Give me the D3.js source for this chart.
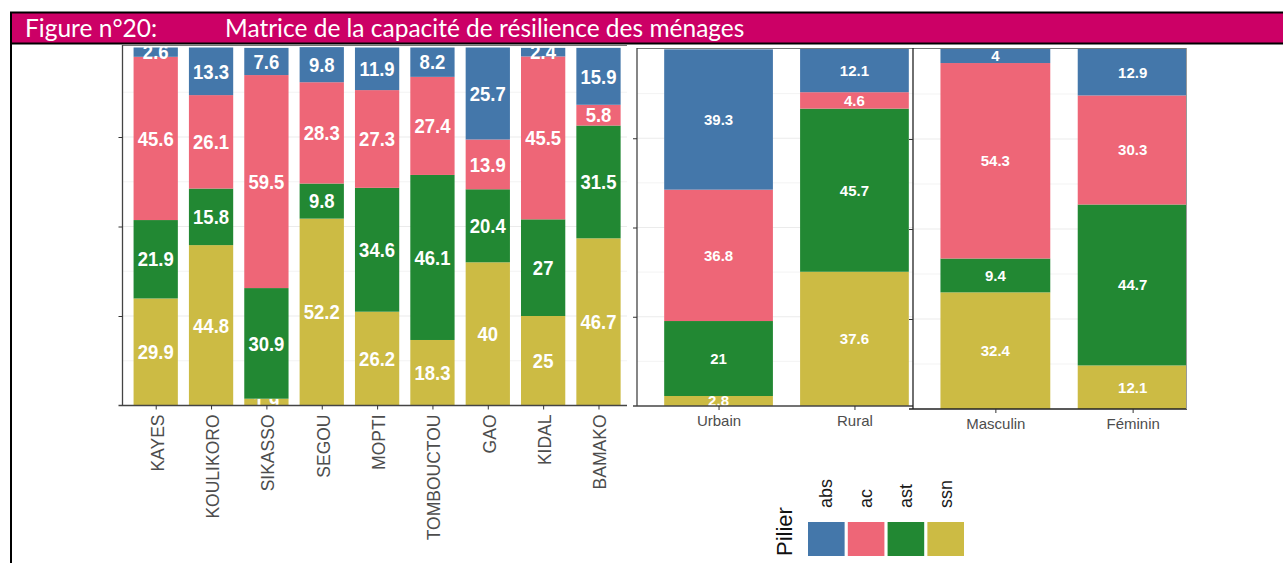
<!DOCTYPE html>
<html lang="fr">
<head>
    <meta charset="UTF-8">
    <title>Matrice de la capacité de résilience des ménages</title>
    <script src="https://d3js.org/d3.v7.min.js"></script>
    <style>
        body { margin: 0; background: #fff; }
        svg { display: block; }
    </style>
</head>
<body>
<div id="chart"></div>
<script>
    // Data
    const piliers = ["abs", "ac", "ast", "ssn"];
    const pilierColors = ["#4477AA", "#EE6677", "#228833", "#CCBB44"];

    const regions = ["KAYES", "KOULIKORO", "SIKASSO", "SEGOU", "MOPTI", "TOMBOUCTOU", "GAO", "KIDAL", "BAMAKO"];
    const regAbs = [2.6, 13.3, 7.6, 9.8, 11.9, 8.2, 25.7, 2.4, 15.9];
    const regAc  = [45.6, 26.1, 59.5, 28.3, 27.3, 27.4, 13.9, 45.5, 5.8];
    const regAst = [21.9, 15.8, 30.9, 9.8, 34.6, 46.1, 20.4, 27, 31.5];
    const regSsn = [29.9, 44.8, 1.9, 52.2, 26.2, 18.3, 40, 25, 46.7];

    const milieux = ["Urbain", "Rural"];
    const milAbs = [39.3, 12.1];
    const milAc  = [36.8, 4.6];
    const milAst = [21, 45.7];
    const milSsn = [2.8, 37.6];

    const sexes = ["Masculin", "Féminin"];
    const sexAbs = [4, 12.9];
    const sexAc  = [54.3, 30.3];
    const sexAst = [9.4, 44.7];
    const sexSsn = [32.4, 12.1];

    const majorTicks = [25, 50, 75];
    const minorTicks = [12.5, 37.5, 62.5, 87.5];

    const W = 1283, H = 563;
    const color = d3.scaleOrdinal().domain(piliers).range(pilierColors);

    const svg = d3.select("#chart").append("svg")
        .attr("width", W)
        .attr("height", H);

    // title banner
    svg.append("rect").attr("x", 11).attr("y", 13).attr("width", W - 11).attr("height", 30)
        .attr("fill", "#CC0066");
    svg.append("line").attr("x1", 10).attr("x2", W).attr("y1", 12.5).attr("y2", 12.5)
        .attr("stroke", "#000").attr("stroke-width", 2);
    svg.append("line").attr("x1", 10).attr("x2", W).attr("y1", 43.5).attr("y2", 43.5)
        .attr("stroke", "#000").attr("stroke-width", 2);
    svg.append("line").attr("x1", 11).attr("x2", 11).attr("y1", 12).attr("y2", H)
        .attr("stroke", "#000").attr("stroke-width", 2);
    svg.append("text").attr("x", 25).attr("y", 37)
        .attr("fill", "#fff").style("font-family", "Lato, sans-serif").style("font-size", "24.5px")
        .text("Figure n°20:");
    svg.append("text").attr("x", 225).attr("y", 37)
        .attr("fill", "#fff").style("font-family", "Lato, sans-serif").style("font-size", "24.5px")
        .text("Matrice de la capacité de résilience des ménages");

    function toRows(cats, abs, ac, ast, ssn) {
        return cats.map((c, i) => ({ cat: c, abs: abs[i], ac: ac[i], ast: ast[i], ssn: ssn[i] }));
    }

    function drawPanel(cfg) {
        const rows = toRows(cfg.cats, cfg.abs, cfg.ac, cfg.ast, cfg.ssn);
        const x = d3.scalePoint().domain(cfg.cats).range([cfg.x0, cfg.x1]).padding(0.6);
        const y = d3.scaleLinear().domain([0, 100]).range([cfg.yBottom, cfg.yTop]);
        const bw = x.step() * 0.8;

        const g = svg.append("g");
        const clipId = "clip-" + cfg.id;
        g.append("clipPath").attr("id", clipId)
            .append("rect").attr("x", cfg.x0).attr("y", cfg.clipTop)
            .attr("width", cfg.clipRight - cfg.x0).attr("height", cfg.yBottom - cfg.clipTop);

        const inner = g.append("g").attr("clip-path", `url(#${clipId})`);

        // grid
        inner.selectAll(".minor").data(minorTicks).enter().append("line")
            .attr("x1", cfg.x0).attr("x2", cfg.clipRight)
            .attr("y1", d => y(d)).attr("y2", d => y(d))
            .attr("stroke", "#EBEBEB").attr("stroke-width", 0.6);
        inner.selectAll(".major").data(majorTicks).enter().append("line")
            .attr("x1", cfg.x0).attr("x2", cfg.clipRight)
            .attr("y1", d => y(d)).attr("y2", d => y(d))
            .attr("stroke", "#EBEBEB").attr("stroke-width", 1.1);

        // stacked bars, ssn at the bottom
        const series = d3.stack().keys(["ssn", "ast", "ac", "abs"])(rows);
        const layers = inner.selectAll(".layer").data(series).enter().append("g")
            .attr("fill", d => color(d.key));
        layers.selectAll("rect").data(d => d).enter().append("rect")
            .attr("x", d => x(d.data.cat) - bw / 2)
            .attr("width", bw)
            .attr("y", d => y(d[1]))
            .attr("height", d => y(d[0]) - y(d[1]));

        layers.selectAll("text").data(d => d).enter().append("text")
            .attr("transform", d => `translate(${x(d.data.cat)},${y((d[0] + d[1]) / 2)}) scale(1,${cfg.labelStretch})`)
            .attr("text-anchor", "middle")
            .attr("dy", "0.36em")
            .attr("fill", "#fff")
            .style("font-family", "Arial, 'Liberation Sans', sans-serif")
            .style("font-weight", "bold")
            .style("font-size", cfg.labelSize + "px")
            .text(d => +(d[1] - d[0]).toFixed(1));

        // frame lines
        g.append("line").attr("x1", cfg.x0).attr("x2", cfg.clipRight)
            .attr("y1", cfg.clipTop + 0.5).attr("y2", cfg.clipTop + 0.5)
            .attr("stroke", "#777").attr("stroke-width", 1.2);

        const yAxis = g.append("g")
            .attr("transform", `translate(${cfg.x0},0)`)
            .call(d3.axisLeft(y).tickValues(majorTicks).tickFormat("").tickSize(4).tickSizeOuter(0));
        yAxis.select(".domain").attr("stroke", cfg.axisColor).attr("stroke-width", 1.3)
            .attr("d", `M0,${cfg.clipTop}V${cfg.yBottom}`);
        yAxis.selectAll(".tick line").attr("stroke", "#333");

        const xAxis = g.append("g")
            .attr("transform", `translate(0,${cfg.yBottom})`)
            .call(d3.axisBottom(x).tickSize(4).tickSizeOuter(0).tickPadding(0).tickFormat(""));
        xAxis.select(".domain").attr("stroke", cfg.axisColor).attr("stroke-width", 1.3)
            .attr("d", `M${cfg.x0 - 4},0H${cfg.clipRight}`);
        xAxis.selectAll(".tick line").attr("stroke", "#333");

        if (cfg.rotate) {
            xAxis.selectAll(".tick").append("text")
                .attr("transform", "translate(1,9) rotate(-90)")
                .attr("text-anchor", "end")
                .attr("dy", "0.36em")
                .attr("fill", "#4D4D4D")
                .style("font-family", "Arial, 'Liberation Sans', sans-serif")
                .style("font-size", "17.5px")
                .text(d => d);
        } else {
            xAxis.selectAll(".tick").append("text")
                .attr("y", 20)
                .attr("text-anchor", "middle")
                .attr("fill", "#4D4D4D")
                .style("font-family", "Arial, 'Liberation Sans', sans-serif")
                .style("font-size", "15px")
                .text(d => d);
        }
        if (cfg.rightLine) {
            g.append("line").attr("x1", cfg.clipRight - 0.5).attr("x2", cfg.clipRight - 0.5)
                .attr("y1", cfg.clipTop).attr("y2", cfg.yBottom)
                .attr("stroke", "#999").attr("stroke-width", 1);
        }
    }

    drawPanel({ id: "reg", cats: regions, abs: regAbs, ac: regAc, ast: regAst, ssn: regSsn,
        x0: 122.5, x1: 631.7, clipRight: 627, yTop: 47.5, yBottom: 405.5, clipTop: 45,
        labelSize: 18.5, labelStretch: 1.08, rotate: true, axisColor: "#444" });

    drawPanel({ id: "mil", cats: milieux, abs: milAbs, ac: milAc, ast: milAst, ssn: milSsn,
        x0: 637, x1: 936, clipRight: 913, yTop: 49, yBottom: 406, clipTop: 48,
        labelSize: 15, labelStretch: 1, rotate: false, axisColor: "#444" });

    drawPanel({ id: "sex", cats: sexes, abs: sexAbs, ac: sexAc, ast: sexAst, ssn: sexSsn,
        x0: 913, x1: 1215, clipRight: 1187, yTop: 49, yBottom: 409, clipTop: 48,
        labelSize: 15, labelStretch: 1, rotate: false, axisColor: "#222", rightLine: true });

    // legend
    const legend = svg.append("g");
    const keyX = d3.scaleBand().domain(piliers).range([808, 964]).paddingInner(0.08);
    legend.selectAll("rect").data(piliers).enter().append("rect")
        .attr("x", d => keyX(d)).attr("y", 522)
        .attr("width", keyX.bandwidth()).attr("height", 34)
        .attr("fill", d => color(d));
    legend.selectAll("text.lab").data(piliers).enter().append("text")
        .attr("class", "lab")
        .attr("transform", d => `translate(${keyX(d) + keyX.bandwidth() / 2 + 6},508) rotate(-90)`)
        .attr("fill", "#1a1a1a")
        .style("font-family", "Arial, 'Liberation Sans', sans-serif")
        .style("font-size", "18px")
        .text(d => d);
    legend.append("text")
        .attr("transform", "translate(792,556) rotate(-90)")
        .attr("fill", "#111")
        .style("font-family", "Arial, 'Liberation Sans', sans-serif")
        .style("font-size", "22px")
        .text("Pilier");
</script>
</body>
</html>
